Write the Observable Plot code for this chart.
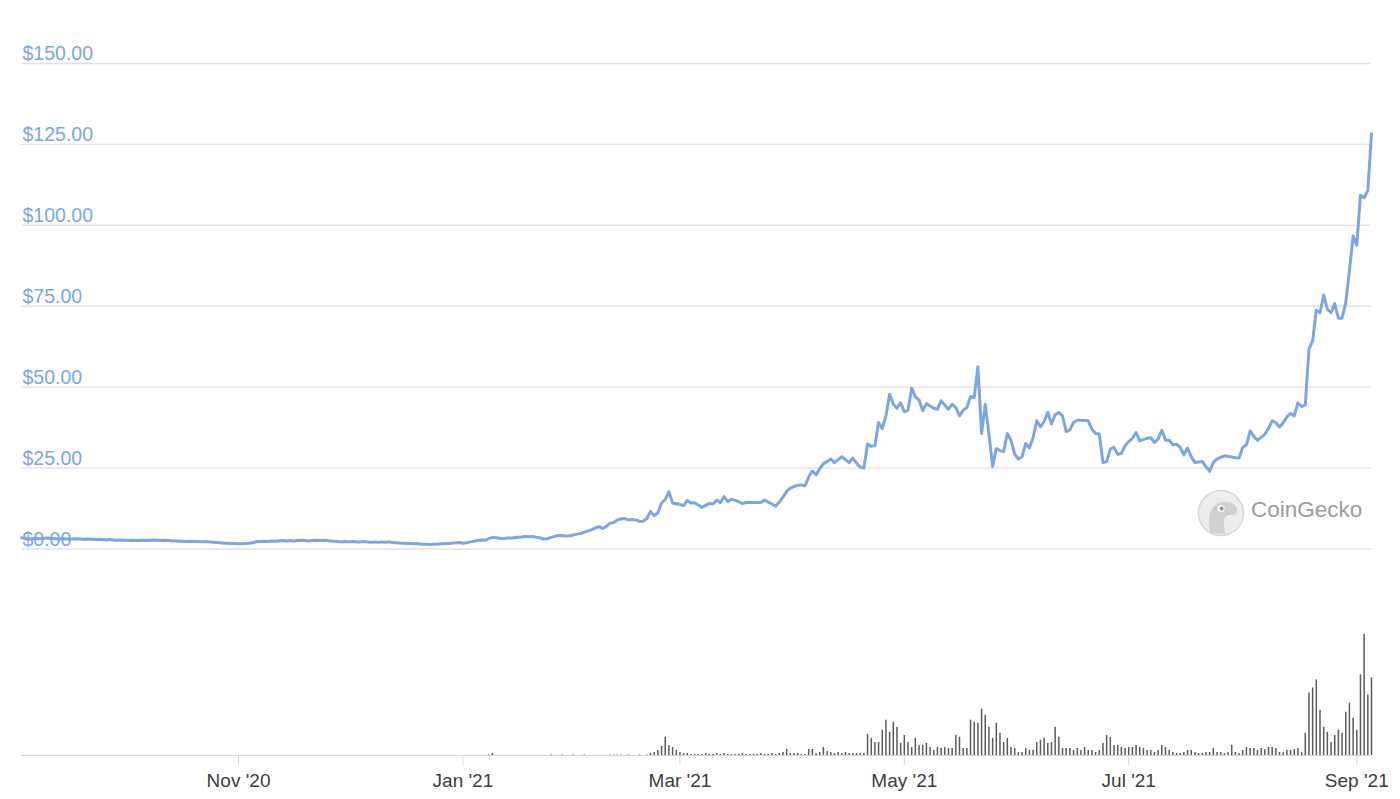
<!DOCTYPE html>
<html><head><meta charset="utf-8">
<script src="https://cdn.jsdelivr.net/npm/d3@7"></script>
<script src="https://cdn.jsdelivr.net/npm/@observablehq/plot@0.6"></script>
<style>
html,body{margin:0;padding:0;background:#fff;}
#wrap{position:relative;width:1400px;height:799px;overflow:hidden;font-family:"Liberation Sans",Arial,sans-serif;}
#wrap > svg{position:absolute;left:0;top:0;}
#wm{position:absolute;left:1197px;top:489px;display:flex;align-items:center;}
#wm span{font-size:22.5px;color:#9d9d9d;margin-left:6px;position:relative;top:-3px;}
</style></head><body><div id="wrap"></div>
<script>
// ---- data (daily) ----
const startDate = "2020-09-03";
const price = [
3.5,3.2,3.1,3.2,3.3,3.2,3.3,3.4,3.3,3.2,
3.1,3.2,3.1,3.2,3.1,3.2,3.1,3.0,3.1,3.0,
2.9,3.0,2.9,2.8,2.9,2.8,2.7,2.8,2.7,2.6,
2.7,2.6,2.6,2.7,2.6,2.7,2.8,2.7,2.6,2.7,
2.6,2.5,2.5,2.4,2.4,2.3,2.4,2.3,2.3,2.2,
2.3,2.2,2.1,2.0,1.9,1.8,1.8,1.7,1.7,1.6,
1.6,1.7,1.8,2.0,2.3,2.3,2.4,2.3,2.5,2.4,
2.5,2.6,2.5,2.6,2.5,2.6,2.7,2.6,2.5,2.6,
2.7,2.6,2.7,2.6,2.5,2.4,2.3,2.2,2.3,2.2,
2.3,2.2,2.2,2.3,2.2,2.1,2.2,2.1,2.2,2.1,
2.2,2.0,1.9,1.8,1.8,1.7,1.7,1.6,1.6,1.5,
1.5,1.4,1.5,1.5,1.6,1.6,1.7,1.8,1.9,2.0,
1.8,1.9,2.2,2.4,2.6,2.8,2.7,3.2,3.6,3.5,
3.3,3.2,3.4,3.4,3.5,3.6,3.7,3.9,3.8,3.9,
3.6,3.4,3.1,3.2,3.6,3.9,4.2,4.1,4.0,4.1,
4.3,4.6,4.8,5.2,5.6,6.0,6.5,6.9,6.3,7.0,
8.0,8.2,9.0,9.3,9.4,9.0,9.1,9.0,8.5,8.6,
9.4,11.6,10.3,11.2,14.2,15.3,17.7,14.2,14.0,13.8,
13.4,15.0,14.2,14.3,13.6,12.8,13.5,14.1,13.9,15.1,
14.3,16.2,14.6,15.4,15.0,14.6,14.0,14.4,14.4,14.4,
14.4,14.4,15.1,14.5,13.9,13.2,14.5,16.0,17.8,18.8,
19.3,19.7,19.8,19.5,22.3,24.1,22.9,24.8,26.4,27.0,
27.8,26.7,27.6,28.5,27.6,26.7,28.1,26.5,25.3,25.0,
32.4,31.7,32.0,39.1,37.2,41.1,47.8,44.7,43.5,45.2,
42.4,42.9,49.7,47.0,46.0,42.7,44.9,44.2,43.5,43.2,
45.8,44.5,43.2,44.7,43.7,41.1,42.9,43.7,47.1,46.8,
56.3,35.7,44.7,35.5,25.5,31.0,30.4,30.1,35.7,33.6,
29.3,27.8,28.5,32.6,31.2,34.4,39.6,37.7,39.4,42.2,
38.6,41.5,42.2,41.1,36.3,36.8,39.1,39.8,39.8,39.7,
39.6,37.0,35.7,35.5,26.7,27.0,30.9,31.4,29.3,29.5,
31.9,33.2,34.2,36.0,33.4,33.8,34.2,34.4,32.9,34.0,
36.7,33.6,33.6,32.2,32.4,31.4,29.1,31.2,28.5,26.7,
26.9,27.0,25.4,24.0,26.7,27.8,28.3,28.8,28.6,28.4,
28.2,28.1,31.4,32.2,36.5,34.8,33.6,34.5,35.5,37.2,
39.6,39.0,37.7,39.0,40.8,41.9,41.1,45.2,44.0,44.5,
61.8,64.3,73.8,73.0,78.4,74.1,73.0,75.8,71.3,71.3,
76.1,86.0,96.7,93.9,109.3,108.5,110.8,128.3
];
// volume, USD millions
const volume = [
0,0,0,0,0,0,0,0,0,0,
0,0,0,0,0,0,0,0,0,0,
0,0,0,0,0,0,0,0,0,0,
0,0,0,0,0,0,0,0,0,0,
0,0,0,0,0,0,0,0,0,0,
0,0,0,0,0,0,0,0,0,0,
0,0,0,0,0,0,0,0,0,0,
0,0,0,0,0,0,0,0,0,0,
0,0,0,0,0,0,0,0,0,0,
0,0,0,0,0,0,0,0,0,0,
0,0,0,0,0,0,0,0,0,0,
0,0,0,0,0,0,0,0,0,0,
0,0,0,0,0,0,0,40,160,0,
0,0,0,0,0,0,0,0,0,0,
0,0,0,0,40,0,0,40,0,0,
40,0,0,40,0,0,0,0,0,0,
40,40,40,40,0,40,0,0,40,0,
40,160,240,400,720,1440,800,640,400,240,
160,160,80,80,80,80,160,80,80,160,
80,160,80,80,80,80,160,80,80,80,
80,160,80,80,160,80,160,240,480,160,
160,160,80,80,480,480,160,240,640,320,
240,160,240,160,240,160,160,160,160,160,
1680,1360,1040,1040,2000,2800,1840,2640,2240,960,
1600,1040,640,1360,800,800,960,640,400,640,
560,640,560,560,1600,1440,560,560,2800,2640,
2560,3680,3200,2240,1360,2560,1760,1040,1360,640,
560,240,240,560,400,400,1040,1200,1360,960,
1040,2240,1440,560,560,560,400,560,400,640,
400,400,240,400,960,1600,1440,800,800,640,
560,640,640,800,640,560,400,400,240,400,
800,640,400,240,160,160,240,400,400,240,
160,160,240,240,560,240,240,160,240,800,
240,160,400,640,560,560,400,560,480,640,
640,560,240,240,400,400,480,560,240,1760,
4960,5360,6000,3600,2240,1840,1040,1600,2000,1760,
3440,4160,2960,2000,6400,9600,4800,6160
];
const yTicks = [0, 25, 50, 75, 100, 125, 150];
const yTickLabels = ["$0.00", "$25.00", "$50.00", "$75.00", "$100.00", "$125.00", "$150.00"];
const xTickDates = ["2020-11-01", "2021-01-01", "2021-03-01", "2021-05-01", "2021-07-01", "2021-09-01"];
const xTickLabels = ["Nov '20", "Jan '21", "Mar '21", "May '21", "Jul '21", "Sep '21"];

// ---- build tables ----
const start = new Date(startDate + "T00:00:00Z");
const rows = price.map((p, i) => ({date: d3.utcDay.offset(start, i), price: p, volume: volume[i] ?? 0}));
const xDomain = [rows[0].date, rows[rows.length - 1].date];
const ticks = xTickDates.map(s => new Date(s + "T00:00:00Z"));
const font = "'Liberation Sans', Arial, Helvetica, sans-serif";

const priceChart = Plot.plot({
  width: 1400, height: 799,
  marginLeft: 21, marginRight: 29, marginTop: 63, marginBottom: 250.5,
  x: {type: "utc", domain: xDomain, axis: null},
  y: {domain: [0, 150], axis: null},
  style: {fontFamily: font, background: "transparent", overflow: "visible"},
  marks: [
    Plot.ruleY(yTicks, {stroke: "#e2e2e2", strokeWidth: 1.3}),
    Plot.text(yTicks, {y: d => d, text: (d, i) => yTickLabels[i], frameAnchor: "left",
      textAnchor: "start", lineAnchor: "bottom", dx: 1, dy: -3.5, fill: "#7ca6e0", fontSize: 19.5}),
    Plot.line(rows, {x: "date", y: "price", stroke: "#7ba6e2", strokeWidth: 3, curve: "linear", strokeLinejoin: "round"})
  ]
});

const volumeChart = Plot.plot({
  width: 1400, height: 799,
  marginLeft: 21, marginRight: 29, marginTop: 634, marginBottom: 44,
  x: {type: "utc", domain: xDomain},
  y: {domain: [0, 9600], axis: null},
  style: {fontFamily: font, background: "transparent", overflow: "visible"},
  marks: [
    Plot.ruleY([0], {stroke: "#ccd6eb", strokeWidth: 1.2}),
    Plot.ruleX(rows.filter(d => d.volume > 0), {x: "date", y: "volume", stroke: "#5a5a5a", strokeWidth: 1.5}),
    Plot.axisX(ticks, {tickSize: 10, tickPadding: 8, stroke: "#ccd6eb", fill: "#3d3d3d", fontSize: 19,
      tickFormat: d => xTickLabels[ticks.findIndex(t => +t === +d)]})
  ]
});

const wrap = document.getElementById("wrap");
wrap.appendChild(volumeChart);
wrap.appendChild(priceChart);

const wm = document.createElement("div");
wm.id = "wm";
wm.innerHTML = `<svg width="48" height="48" viewBox="0 0 48 48">
  <circle cx="24" cy="24" r="22.5" fill="#ededed" stroke="#d8d8d8" stroke-width="1.6"/>
  <path d="M13 44 C10 31 12 18 22 14 C30 11 38 14 40 20 C41 24 38 26 33 26 C28 26.5 26 30 27 36 L28 45 Z" fill="#d0d0d0"/>
  <circle cx="24" cy="19.5" r="3.6" fill="#fafafa"/><circle cx="24.6" cy="19.5" r="1.9" fill="#8d8d8d"/>
</svg><span>CoinGecko</span>`;
wrap.appendChild(wm);
</script></body></html>
